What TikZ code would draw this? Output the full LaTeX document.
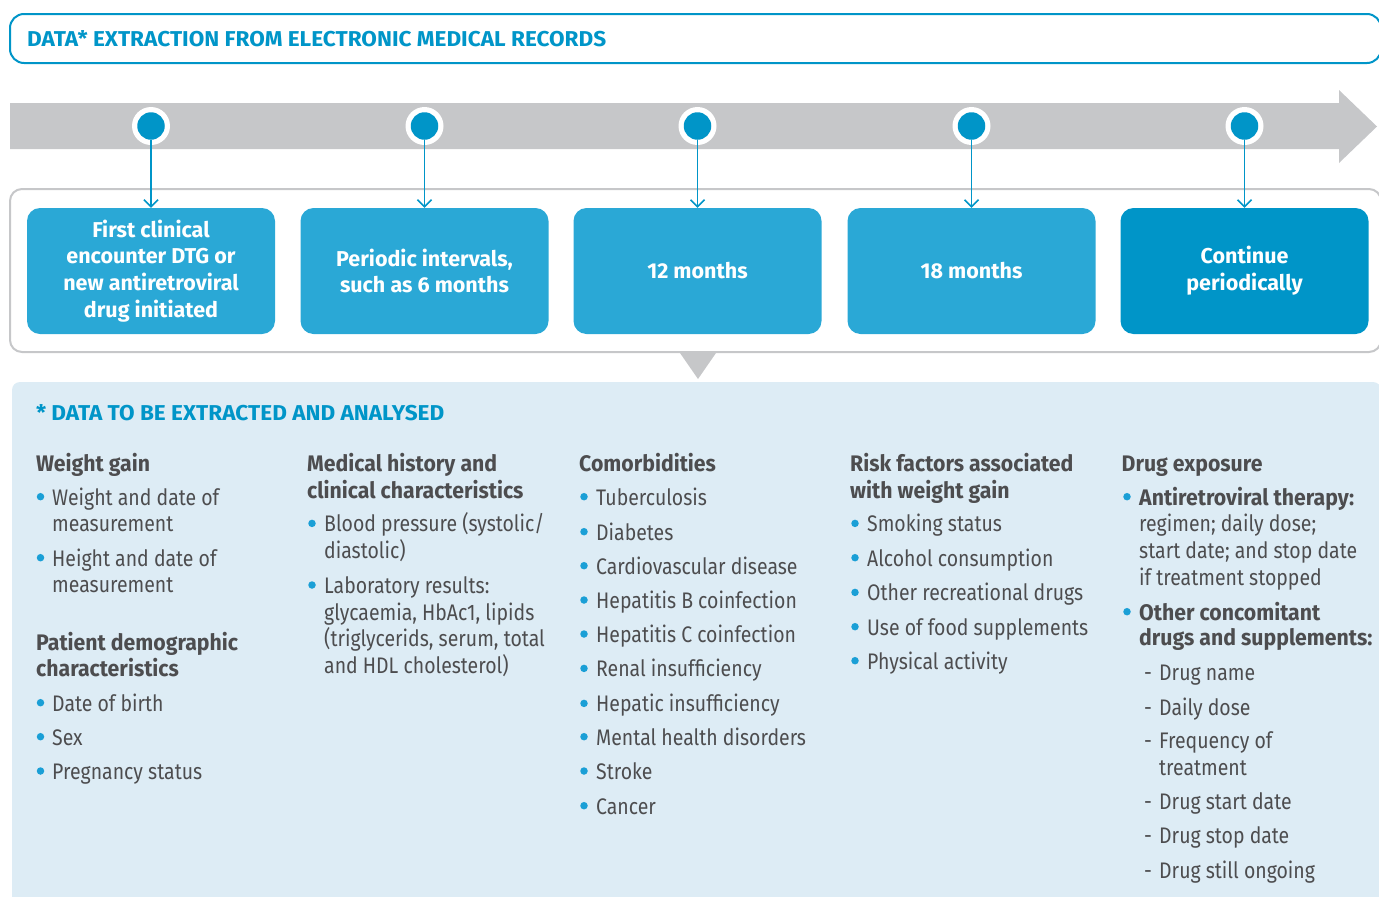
\documentclass[tikz,border=0pt]{standalone}
\usepackage{fontspec}
\setmainfont{Fira Sans}[FakeStretch=0.865]
\newfontfamily\headfont{Fira Sans}[FakeStretch=0.945]
\newfontfamily\boxfont{Fira Sans}[FakeStretch=1.0]
\newfontfamily\titlefont{Fira Sans}[FakeStretch=1.05]
\usetikzlibrary{arrows.meta,shapes.geometric}
\definecolor{mblue}{HTML}{0095C8}
\definecolor{lblue}{HTML}{2AA8D6}
\definecolor{panel}{HTML}{DDECF5}
\definecolor{lgrey}{HTML}{C6C7C9}
\definecolor{dtext}{HTML}{4D4D4F}
\definecolor{bulc}{HTML}{1A9FD6}
\newcommand\bl[4]{\node[bodytxt] (#1) at (#2,#3) {#4};}
\newcommand\hl[4]{\node[headtxt] (#1) at (#2,#3) {#4};}
\newcommand\bd[3]{\node[bdot] (#1) at (#2,#3-8.3) {};}
\begin{document}
\begin{tikzpicture}[x=1pt,y=-1pt,
  bodytxt/.style={anchor=base west,inner sep=0,text=dtext,font=\fontsize{22.5}{26.7}\selectfont},
  headtxt/.style={anchor=base west,inner sep=0,text=dtext,font=\headfont\fontsize{22.5}{26.7}\selectfont\bfseries},
  bdot/.style={circle,fill=bulc,inner sep=0,minimum size=7.5},
  stepbox/.style={rounded corners=13,fill=lblue,minimum width=248,minimum height=126,text=white,align=center,font=\boxfont\fontsize{21.5}{26.7}\selectfont\bfseries,inner sep=0},
  tdot/.style={circle,fill=mblue,inner sep=0,minimum size=27.5},
  ttl/.style={anchor=base west,inner sep=0,text=mblue,font=\titlefont\fontsize{21.5}{25}\selectfont\bfseries},
  conn/.style={draw=mblue,line width=1.5,-{Straight Barb[length=7,width=14,line width=1.5]}}
]
\clip (0,0) rectangle (1379,897);
% title
\draw[mblue,line width=2,rounded corners=14] (10,14) rectangle (1381,63);
\node[ttl] (title) at (27,46.7) {DATA* EXTRACTION FROM ELECTRONIC MEDICAL RECORDS};
% grey arrow
\fill[lgrey] (10,103) -- (1339,103) -- (1339,90) -- (1377,126.5) -- (1339,163) -- (1339,149) -- (10,149) -- cycle;
% frame
\draw[lgrey,line width=2,rounded corners=12] (10,189) rectangle (1381,352);
% boxes
\node[stepbox] (b1) at (151,271) {First clinical\\encounter DTG or\\new antiretroviral\\drug initiated};
\node[stepbox] (b2) at (424.5,271) {Periodic intervals,\\such as 6 months};
\node[stepbox] (b3) at (697.5,271) {12 months};
\node[stepbox] (b4) at (971.5,271) {18 months};
\node[stepbox,fill=mblue] (b5) at (1244.5,271) {Continue\\periodically};
% circles
\foreach \i/\x in {1/151,2/424.5,3/697.5,4/971.5,5/1244.5}{
  \fill[white] (\x,126) circle (19);
  \node[tdot] (c\i) at (\x,126) {};
  \draw[conn] (c\i) -- (b\i);
}
% triangle
\fill[lgrey] (680,353) -- (716,353) -- (698,379) -- cycle;
% panel
\fill[panel,rounded corners=8] (12,382) rectangle (1381,910);
\node[ttl] (dhead) at (36,420.7) {*\hspace{5pt}DATA TO BE EXTRACTED AND ANALYSED};
% column 1
\hl{h1}{36}{471.7}{Weight gain}
\bd{d11}{40.5}{505}\bl{t11}{52}{505}{Weight and date of}
\bl{t12}{52}{531.7}{measurement}
\bd{d12}{40.5}{566}\bl{t13}{52}{566}{Height and date of}
\bl{t14}{52}{592.7}{measurement}
\hl{h1b}{36}{650}{Patient demographic}
\hl{h1c}{36}{676.7}{characteristics}
\bd{d13}{40.5}{711}\bl{t15}{52}{711}{Date of birth}
\bd{d14}{40.5}{745}\bl{t16}{52}{745}{Sex}
\bd{d15}{40.5}{779.3}\bl{t17}{52}{779.3}{Pregnancy status}
% column 2
\hl{h2}{307}{471.7}{Medical history and}
\hl{h2b}{307}{498.3}{clinical characteristics}
\bd{d21}{312}{531.7}\bl{t21}{324}{531.7}{Blood pressure (systolic/}
\bl{t22}{324}{558.3}{diastolic)}
\bd{d22}{312}{593.3}\bl{t23}{324}{593.3}{Laboratory results:}
\bl{t24}{324}{620}{glycaemia, HbAc1, lipids}
\bl{t25}{324}{646.7}{(triglycerids, serum, total}
\bl{t26}{324}{673.3}{and HDL cholesterol)}
% column 3
\hl{h3}{579}{471.7}{Comorbidities}
\bd{d31}{584}{505}\bl{t31}{596}{505}{Tuberculosis}
\bd{d32}{584}{540}\bl{t32}{596}{540}{Diabetes}
\bd{d33}{584}{574}\bl{t33}{596}{574}{Cardiovascular disease}
\bd{d34}{584}{608.3}\bl{t34}{596}{608.3}{Hepatitis B coinfection}
\bd{d35}{584}{642.3}\bl{t35}{596}{642.3}{Hepatitis C coinfection}
\bd{d36}{584}{676.7}\bl{t36}{596}{676.7}{Renal insufficiency}
\bd{d37}{584}{711.7}\bl{t37}{596}{711.7}{Hepatic insufficiency}
\bd{d38}{584}{745}\bl{t38}{596}{745}{Mental health disorders}
\bd{d39}{584}{779.3}\bl{t39}{596}{779.3}{Stroke}
\bd{d3a}{584}{814}\bl{t3a}{596}{814}{Cancer}
% column 4
\hl{h4}{850}{471.7}{Risk factors associated}
\hl{h4b}{850}{498.3}{with weight gain}
\bd{d41}{855}{531.7}\bl{t41}{867}{531.7}{Smoking status}
\bd{d42}{855}{566}\bl{t42}{867}{566}{Alcohol consumption}
\bd{d43}{855}{600.7}\bl{t43}{867}{600.7}{Other recreational drugs}
\bd{d44}{855}{635}\bl{t44}{867}{635}{Use of food supplements}
\bd{d45}{855}{669}\bl{t45}{867}{669}{Physical activity}
% column 5
\hl{h5}{1121.5}{471.7}{Drug exposure}
\bd{d51}{1127}{505}\hl{t51}{1139}{505}{Antiretroviral therapy:}
\bl{t52}{1139}{531.7}{regimen; daily dose;}
\bl{t53}{1139}{558.3}{start date; and stop date}
\bl{t54}{1139}{585}{if treatment stopped}
\bd{d52}{1127}{620}\hl{t55}{1139}{620}{Other concomitant}
\hl{t56}{1139}{645}{drugs and supplements:}
\bl{m1}{1144}{680}{-}\bl{t57}{1159}{680}{Drug name}
\bl{m2}{1144}{715}{-}\bl{t58}{1159}{715}{Daily dose}
\bl{m3}{1144}{748.3}{-}\bl{t59}{1159}{748.3}{Frequency of}
\bl{t5a}{1159}{775}{treatment}
\bl{m4}{1144}{809.3}{-}\bl{t5b}{1159}{809.3}{Drug start date}
\bl{m5}{1144}{843.3}{-}\bl{t5c}{1159}{843.3}{Drug stop date}
\bl{m6}{1144}{878.3}{-}\bl{t5d}{1159}{878.3}{Drug still ongoing}
\end{tikzpicture}
\end{document}
